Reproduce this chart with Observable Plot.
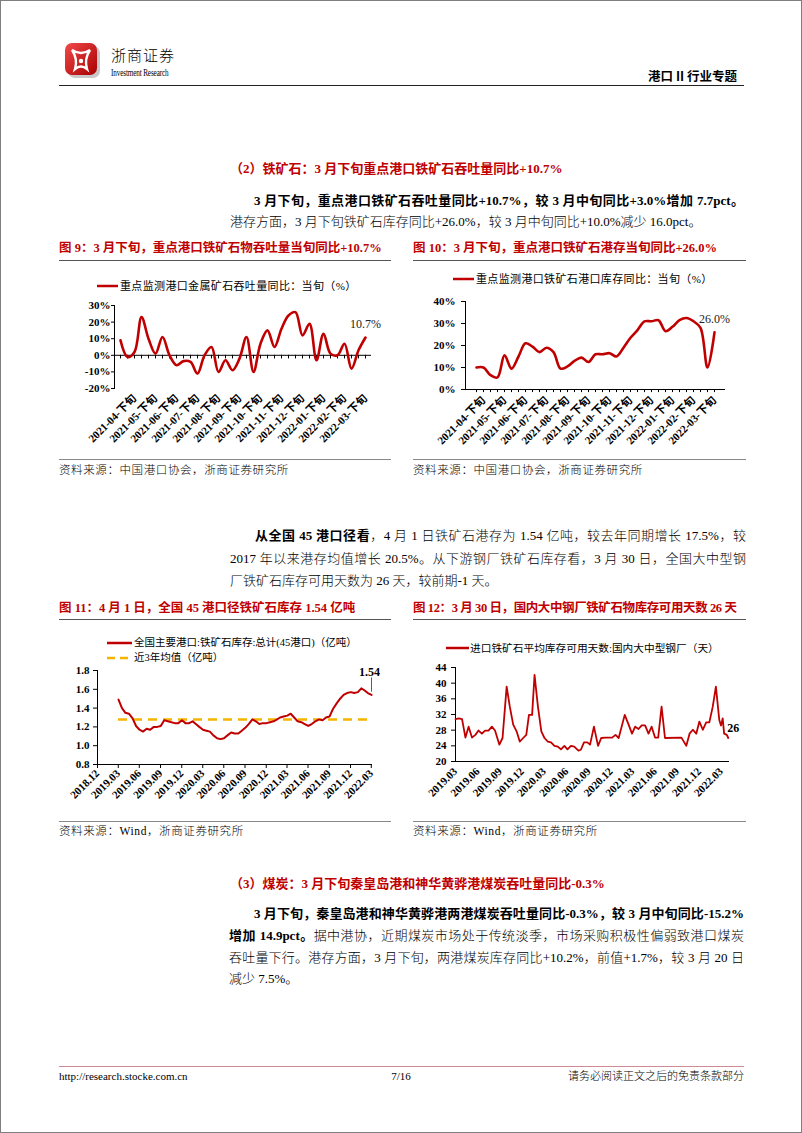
<!DOCTYPE html>
<html><head><meta charset="utf-8">
<script src="https://cdn.jsdelivr.net/npm/d3@7"></script>
<script src="https://cdn.jsdelivr.net/npm/@observablehq/plot@0.6"></script>
<style>
html,body{margin:0;padding:0;background:#fff}
#page{position:relative;width:800px;height:1131px;border:1px solid #7f7f7f;overflow:hidden;font-family:"Liberation Serif","Noto Sans CJK SC",serif;color:#000;background:#fff}
.t{position:absolute;white-space:nowrap;line-height:16px}
.body{font-size:13px;font-weight:300}
.body b{font-weight:bold}
.j{text-align:justify;text-align-last:justify}
.red{color:#c00000;font-weight:bold}
.ftitle{font-size:12.5px}
.rule{position:absolute;height:0;border-top:1px solid #555}
.src{font-size:11.5px;font-weight:300;letter-spacing:0.6px}
.leg{font-size:11px;letter-spacing:0.35px}
.chart{position:absolute}
</style></head>
<body>
<div id="page">
  <!-- header -->
  <svg class="t" style="left:62px;top:40px" width="40" height="40" viewBox="0 0 40 40">
    <defs><linearGradient id="lg" x1="0" y1="0" x2="1" y2="1"><stop offset="0" stop-color="#f24a4a"/><stop offset="1" stop-color="#a80000"/></linearGradient></defs>
    <rect x="5" y="5" width="32" height="32" rx="7" fill="#c8c8c8"/>
    <rect x="2" y="2" width="32" height="32" rx="7" fill="url(#lg)"/>
    <path d="M9 9 Q18 15 27 9 Q21 18 24 28 Q18 23 12 28 Q15 18 9 9Z" fill="none" stroke="#fff" stroke-width="2.4"/>
    <circle cx="18" cy="20" r="2.2" fill="#fff"/>
  </svg>
  <div class="t" style="left:110px;top:46px;font-size:15px;letter-spacing:1px;font-family:'Noto Sans CJK SC';font-weight:300">浙商证券</div>
  <div class="t" style="left:110px;top:64px;font-size:10px;transform:scaleX(0.72);transform-origin:left;letter-spacing:-0.2px">Investment Research</div>
  <div class="t" style="right:64px;top:67px;font-size:12.5px;font-weight:bold;font-family:'Noto Sans CJK SC'">港口 II 行业专题</div>
  <div class="rule" style="left:58px;top:84px;width:685px;border-top:1.5px solid #222"></div>

  <!-- section 2 -->
  <div class="t red" style="left:229px;top:160px;font-size:13px">（2）铁矿石：3 月下旬重点港口铁矿石吞吐量同比+10.7%</div>
  <div class="t body j" style="left:253px;top:192px;width:490px"><b>3 月下旬，重点港口铁矿石吞吐量同比+10.7%，较 3 月中旬同比+3.0%增加 7.7pct。</b></div>
  <div class="t body" style="left:229px;top:213px">港存方面，3 月下旬铁矿石库存同比+26.0%，较 3 月中旬同比+10.0%减少 16.0pct。</div>

  <div class="t red ftitle" style="left:58px;top:239px">图 9：3 月下旬，重点港口铁矿石物吞吐量当旬同比+10.7%</div>
  <div class="t red ftitle" style="left:412px;top:239px">图 10：3 月下旬，重点港口铁矿石港存当旬同比+26.0%</div>
  <div class="rule" style="left:58px;top:259px;width:332px"></div>
  <div class="rule" style="left:412px;top:259px;width:333px"></div>

  <svg class="t" style="left:96px;top:279px" width="22" height="12"><line x1="0" y1="6" x2="21" y2="6" stroke="#c00000" stroke-width="2.5"/></svg>
  <div class="t leg" style="left:119px;top:277px">重点监测港口金属矿石吞吐量同比：当旬（%）</div>
  <svg class="t" style="left:452px;top:272px" width="22" height="12"><line x1="0" y1="6" x2="21" y2="6" stroke="#c00000" stroke-width="2.5"/></svg>
  <div class="t leg" style="left:475px;top:270px">重点监测港口铁矿石港口库存同比：当旬（%）</div>

  <div id="c9" class="chart" style="left:58px;top:295px"></div>
  <div id="c10" class="chart" style="left:412px;top:290px"></div>

  <div class="rule" style="left:58px;top:458px;width:332px;border-color:#888"></div>
  <div class="rule" style="left:412px;top:458px;width:333px;border-color:#888"></div>
  <div class="t src" style="left:58px;top:461px">资料来源：中国港口协会，浙商证券研究所</div>
  <div class="t src" style="left:412px;top:461px">资料来源：中国港口协会，浙商证券研究所</div>

  <!-- paragraph -->
  <div class="t body j" style="left:254px;top:527px;width:491px"><b>从全国 45 港口径看</b>，4 月 1 日铁矿石港存为 1.54 亿吨，较去年同期增长 17.5%，较</div>
  <div class="t body j" style="left:229px;top:550px;width:516px">2017 年以来港存均值增长 20.5%。从下游钢厂铁矿石库存看，3 月 30 日，全国大中型钢</div>
  <div class="t body" style="left:229px;top:572px">厂铁矿石库存可用天数为 26 天，较前期-1 天。</div>

  <div class="t red ftitle" style="left:58px;top:599px">图 11：4 月 1 日，全国 45 港口径铁矿石库存 1.54 亿吨</div>
  <div class="t red ftitle" style="left:412px;top:599px;letter-spacing:-0.4px">图 12：3 月 30 日，国内大中钢厂铁矿石物库存可用天数 26 天</div>
  <div class="rule" style="left:58px;top:618px;width:332px"></div>
  <div class="rule" style="left:412px;top:618px;width:333px"></div>

  <svg class="t" style="left:106px;top:636px" width="26" height="12"><line x1="0" y1="6" x2="25" y2="6" stroke="#c00000" stroke-width="2.5"/></svg>
  <div class="t leg" style="left:133px;top:634px;font-size:10.5px;letter-spacing:0">全国主要港口:铁矿石库存:总计(45港口)（亿吨）</div>
  <svg class="t" style="left:106px;top:651px" width="26" height="12"><line x1="0" y1="6" x2="25" y2="6" stroke="#f5b400" stroke-width="2.5" stroke-dasharray="8,5"/></svg>
  <div class="t leg" style="left:133px;top:649px;font-size:10.5px;letter-spacing:0">近3年均值（亿吨）</div>
  <svg class="t" style="left:445px;top:641px" width="24" height="12"><line x1="0" y1="6" x2="23" y2="6" stroke="#c00000" stroke-width="2.5"/></svg>
  <div class="t leg" style="left:469px;top:639px;font-size:10.7px;letter-spacing:0">进口铁矿石平均库存可用天数:国内大中型钢厂（天）</div>

  <div id="c11" class="chart" style="left:58px;top:660px"></div>
  <div id="c12" class="chart" style="left:412px;top:657px"></div>

  <div class="rule" style="left:58px;top:820px;width:332px;border-color:#888"></div>
  <div class="rule" style="left:412px;top:820px;width:333px;border-color:#888"></div>
  <div class="t src" style="left:58px;top:822px">资料来源：Wind，浙商证券研究所</div>
  <div class="t src" style="left:412px;top:822px">资料来源：Wind，浙商证券研究所</div>

  <!-- section 3 -->
  <div class="t red" style="left:229px;top:875px;font-size:13px">（3）煤炭：3 月下旬秦皇岛港和神华黄骅港煤炭吞吐量同比-0.3%</div>
  <div class="t body j" style="left:253px;top:905px;width:490px"><b>3 月下旬，秦皇岛港和神华黄骅港两港煤炭吞吐量同比-0.3%，较 3 月中旬同比-15.2%</b></div>
  <div class="t body j" style="left:228px;top:927px;width:515px"><b>增加 14.9pct。</b>据中港协，近期煤炭市场处于传统淡季，市场采购积极性偏弱致港口煤炭</div>
  <div class="t body j" style="left:228px;top:949px;width:515px">吞吐量下行。港存方面，3 月下旬，两港煤炭库存同比+10.2%，前值+1.7%，较 3 月 20 日</div>
  <div class="t body" style="left:228px;top:970px">减少 7.5%。</div>

  <!-- footer -->
  <div class="rule" style="left:58px;top:1065px;width:685px;border-color:#d08a95"></div>
  <div class="t" style="left:58px;top:1067px;font-size:11px">http://research.stocke.com.cn</div>
  <div class="t" style="left:380px;top:1067px;width:40px;text-align:center;font-size:11px">7/16</div>
  <div class="t" style="right:57px;top:1067px;font-size:11px;font-weight:300">请务必阅读正文之后的免责条款部分</div>
</div>

<script>
// ---------- data ----------
const RED = "#c00000";
const GOLD = "#f5b400";

// Fig 9 / Fig 10: ten-day (旬) periods
const xunMonths = ["2021-04","2021-05","2021-06","2021-07","2021-08","2021-09","2021-10","2021-11","2021-12","2022-01","2022-02","2022-03"];
const xunParts = ["上旬","中旬","下旬"];
const xunTicks = ["2021-04-下旬","2021-05-下旬","2021-06-下旬","2021-07-下旬","2021-08-下旬","2021-09-下旬","2021-10-下旬","2021-11-下旬","2021-12-下旬","2022-01-下旬","2022-02-下旬","2022-03-下旬"];

// 重点监测港口金属矿石吞吐量同比：当旬（%） 2021-04-上旬 … 2022-03-下旬
const c9Vals = [9,-1,2,23,10,1,11,0,-6,-3.5,-4,-11,0,5,-10,-3,-9,-2,11,-10,7,15,5,16,24,26,12,19,-3,13,1,0,7,-8,3,10.7];
const c9YTicks = [-20,-10,0,10,20,30];

// 重点监测港口铁矿石港口库存同比：当旬（%） 2021-04-中旬 … 2022-03-下旬
const c10Vals = [10,10,6.5,5.5,15.5,9.5,15,21,19.5,17,19,17,9.5,10.5,13,14.5,12.5,16,16,16.5,15,19,23.5,27,31,31,31.5,26.5,28.5,31.5,32.5,31,28,10,26];
const c10YTicks = [0,10,20,30,40];

// Fig 11: 全国主要港口铁矿石库存 (亿吨), half-monthly
const c11Dates = ["2019-04-01","2019-04-16","2019-05-01","2019-05-16","2019-06-01","2019-06-16","2019-07-01","2019-07-16","2019-08-01","2019-08-16","2019-09-01","2019-09-16","2019-10-01","2019-10-16","2019-11-01","2019-11-16","2019-12-01","2019-12-16",
"2020-01-01","2020-01-16","2020-02-01","2020-02-16","2020-03-01","2020-03-16","2020-04-01","2020-04-16","2020-05-01","2020-05-16","2020-06-01","2020-06-16","2020-07-01","2020-07-16","2020-08-01","2020-08-16","2020-09-01","2020-09-16","2020-10-01","2020-10-16","2020-11-01","2020-11-16","2020-12-01","2020-12-16",
"2021-01-01","2021-01-16","2021-02-01","2021-02-16","2021-03-01","2021-03-16","2021-04-01","2021-04-16","2021-05-01","2021-05-16","2021-06-01","2021-06-16","2021-07-01","2021-07-16","2021-08-01","2021-08-16","2021-09-01","2021-09-16","2021-10-01","2021-10-16","2021-11-01","2021-11-16","2021-12-01","2021-12-16",
"2022-01-01","2022-01-16","2022-02-01","2022-02-16","2022-03-01","2022-03-16","2022-04-01"];
const c11Vals = [1.49,1.40,1.35,1.34,1.29,1.21,1.17,1.15,1.18,1.17,
1.20,1.20,1.21,1.27,1.26,1.25,1.24,1.24,1.27,1.24,
1.24,1.26,1.23,1.20,1.17,1.16,1.15,1.11,1.08,1.07,
1.08,1.11,1.14,1.13,1.13,1.16,1.19,1.23,1.28,1.26,
1.23,1.24,1.24,1.25,1.26,1.28,1.30,1.31,1.32,1.34,
1.30,1.26,1.25,1.23,1.21,1.23,1.26,1.28,1.27,1.30,
1.31,1.39,1.45,1.50,1.54,1.56,1.57,1.56,1.57,1.61,
1.59,1.56,1.54];
const c11Avg = 1.28;   // 近3年均值
const c11Ticks = ["2018-12-31","2019-03-31","2019-06-30","2019-09-30","2019-12-31","2020-03-31","2020-06-30","2020-09-30","2020-12-31","2021-03-31","2021-06-30","2021-09-30","2021-12-31","2022-03-31"];
const c11YTicks = [0.8,1.0,1.2,1.4,1.6,1.8];

// Fig 12: 进口铁矿石平均库存可用天数 (天)
const c12Dates = ["2019-03-01","2019-03-15","2019-03-28","2019-04-11","2019-04-24","2019-05-08","2019-05-22","2019-06-04","2019-06-18","2019-07-01","2019-07-15","2019-07-29","2019-08-11","2019-08-29","2019-09-11","2019-09-28","2019-10-11","2019-10-25","2019-11-08","2019-11-21","2019-12-05","2019-12-18","2019-12-29",
"2020-01-11","2020-01-21","2020-02-04","2020-02-18","2020-03-02","2020-03-16","2020-03-29","2020-04-12","2020-04-26","2020-05-09","2020-05-23","2020-06-05","2020-06-19","2020-07-03","2020-07-20","2020-07-30","2020-08-12","2020-08-26","2020-09-06","2020-09-22","2020-10-09","2020-10-22","2020-11-09","2020-12-06","2020-12-20",
"2021-01-02","2021-01-27","2021-02-12","2021-02-26","2021-03-11","2021-03-25","2021-04-07","2021-04-21","2021-05-05","2021-05-18","2021-06-01","2021-06-14","2021-06-28","2021-07-12","2021-09-18","2021-10-08","2021-10-22","2021-11-04","2021-11-18","2021-12-01","2021-12-15","2021-12-29",
"2022-01-11","2022-01-25","2022-02-07","2022-02-21","2022-02-28","2022-03-07","2022-03-13","2022-03-24","2022-03-30"];
const c12Vals = [30.8,31,30.8,26.1,28.9,26.1,26.8,27.9,27.1,27.9,27.9,28.9,27.9,24.3,26,39.1,34,29.4,27.7,25.1,26,26.8,31.9,
31.9,42.1,34,27.7,26,25.1,24.9,24,23.8,23.1,24,23.1,24,23.8,22.8,23,24.9,24.9,24.3,28.9,24,26,26.1,26.1,26.8,
26,31.9,29.4,27.1,28.9,28.3,29.2,29.2,27.1,28.9,26.1,26.1,34,26,26.1,24,27.2,28.1,27.1,30.2,28.1,30,
30,34,39.1,30.6,29.2,31,27.1,26.8,26];
const c12Ticks = ["2019-03-01","2019-06-01","2019-09-01","2019-12-01","2020-03-01","2020-06-01","2020-09-01","2020-12-01","2021-03-01","2021-06-01","2021-09-01","2021-12-01","2022-03-01"];
const c12YTicks = [20,24,28,32,36,40,44];

// ---------- build ----------
const P = d => new Date(d + "T00:00:00Z");
const axisStyle = {fontFamily: '"Liberation Serif","Noto Sans CJK SC",serif', fontSize: "11px", fontWeight: "bold", color: "#000", background: "transparent", overflow: "visible"};

const c9Cats = xunMonths.flatMap(m => xunParts.map(p => `${m}-${p}`));
const c10Cats = c9Cats.slice(1);
const d9 = c9Cats.map((c, i) => ({c, v: c9Vals[i]}));
const d10 = c10Cats.map((c, i) => ({c, v: c10Vals[i]}));
const d11 = c11Dates.map((d, i) => ({date: P(d), v: c11Vals[i]}));
const d12 = c12Dates.map((d, i) => ({date: P(d), v: c12Vals[i]}));

const p9 = Plot.plot({
  width: 332, height: 155, marginLeft: 55, marginRight: 20, marginTop: 9, marginBottom: 63,
  style: axisStyle,
  x: {type: "point", domain: c9Cats, padding: 0.56, ticks: xunTicks, tickSize: 0, tickPadding: 8, tickRotate: -45, label: null},
  y: {domain: [-20, 30], ticks: c9YTicks, tickFormat: d => d + "%", tickSize: 3, tickPadding: 1, line: true, label: null},
  marks: [
    Plot.ruleY([0], {stroke: "#000", strokeWidth: 1}),
    Plot.ruleX(c9Cats, {x: d => d, y1: 0, y2: -2.2, stroke: "#000"}),
    Plot.lineY(d9, {x: "c", y: "v", stroke: RED, strokeWidth: 2.6, curve: "catmull-rom"}),
    Plot.text(d9.slice(-1), {x: "c", y: "v", text: d => d.v + "%", dy: -13, fontWeight: "normal", fontSize: 12, fill: "#222"})
  ]
});
document.getElementById("c9").append(p9);

const p10 = Plot.plot({
  width: 333, height: 160, marginLeft: 52, marginRight: 22, marginTop: 10, marginBottom: 62,
  style: axisStyle,
  x: {type: "point", domain: c10Cats, padding: 0.5, ticks: xunTicks, tickSize: 0, tickPadding: 9, tickRotate: -45, line: true, label: null},
  y: {domain: [0, 40], ticks: c10YTicks, tickFormat: d => d + "%", tickSize: 4, tickPadding: 6, line: true, label: null},
  marks: [
    Plot.ruleX(c10Cats, {x: d => d, y1: 0, y2: -1.4, stroke: "#000"}),
    Plot.lineY(d10, {x: "c", y: "v", stroke: RED, strokeWidth: 2.6, curve: "catmull-rom"}),
    Plot.text(d10.slice(-1), {x: "c", y: "v", text: d => d.v.toFixed(1) + "%", dy: -13, fontWeight: "normal", fontSize: 12, fill: "#222"})
  ]
});
document.getElementById("c10").append(p10);

const last11 = d11[d11.length - 1];
const p11 = Plot.plot({
  width: 332, height: 150, marginLeft: 38, marginRight: 20, marginTop: 9, marginBottom: 47,
  style: axisStyle,
  x: {type: "utc", domain: [P("2018-12-31"), P("2022-04-01")], ticks: c11Ticks.map(P), tickFormat: d3.utcFormat("%Y.%m"), tickSize: 4, tickPadding: 3, tickRotate: -45, line: true, label: null},
  y: {domain: [0.8, 1.8], ticks: c11YTicks, tickFormat: d3.format(".1f"), tickSize: 4, tickPadding: 4, line: true, label: null},
  marks: [
    Plot.ruleY([c11Avg], {x1: d11[0].date, x2: last11.date, stroke: GOLD, strokeWidth: 2.5, strokeDasharray: "9,6"}),
    Plot.lineY(d11, {x: "date", y: "v", stroke: RED, strokeWidth: 2}),
    Plot.ruleX([last11], {x: "date", y1: d => d.v + 0.03, y2: d => d.v + 0.18, stroke: "#333", strokeWidth: 0.8}),
    Plot.text([last11], {x: "date", y: "v", text: d => d.v.toFixed(2), dy: -23, dx: -2, fontWeight: "bold", fontSize: 12})
  ]
});
document.getElementById("c11").append(p11);

const last12 = d12[d12.length - 1];
const p12 = Plot.plot({
  width: 333, height: 153, marginLeft: 42, marginRight: 18, marginTop: 9, marginBottom: 50,
  style: axisStyle,
  x: {type: "utc", domain: [P("2019-03-01"), P("2022-03-31")], ticks: c12Ticks.map(P), tickFormat: d3.utcFormat("%Y.%m"), tickSize: 0, tickPadding: 8, tickRotate: -45, line: true, label: null},
  y: {domain: [20, 44], ticks: c12YTicks, tickSize: 4, tickPadding: 5, line: true, label: null},
  marks: [
    Plot.lineY(d12, {x: "date", y: "v", stroke: RED, strokeWidth: 1.8}),
    Plot.text([last12], {x: "date", y: "v", text: d => String(d.v), dy: -10, dx: -1, textAnchor: "start", fontWeight: "bold", fontSize: 12})
  ]
});
document.getElementById("c12").append(p12);
</script>
</body></html>
